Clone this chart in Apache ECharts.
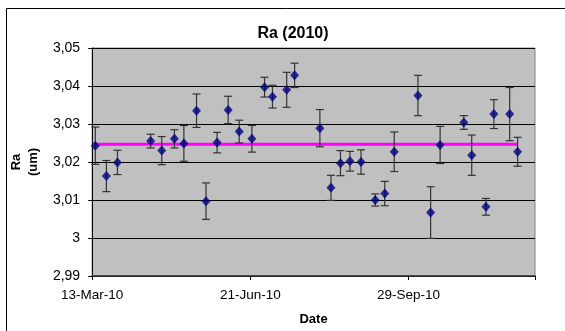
<!DOCTYPE html>
<html>
<head>
<meta charset="utf-8">
<script src="https://cdn.jsdelivr.net/npm/echarts@6/dist/echarts.min.js"></script>
<style>
html,body{margin:0;padding:0;background:#fff;}
#chart{width:565px;height:331px;}
</style>
</head>
<body>
<div id="chart"></div>
<script>
// ---- data ----
const startDate = '2010-03-13';
const dates = ['2010-03-15','2010-03-22','2010-03-29','2010-04-19','2010-04-26','2010-05-04','2010-05-10','2010-05-18','2010-05-24','2010-05-31',
  '2010-06-07','2010-06-14','2010-06-22','2010-06-30','2010-07-05','2010-07-14','2010-07-19','2010-08-04','2010-08-11','2010-08-17',
  '2010-08-23','2010-08-30','2010-09-08','2010-09-14','2010-09-20','2010-10-05','2010-10-13','2010-10-19','2010-11-03','2010-11-08',
  '2010-11-17','2010-11-22','2010-12-02','2010-12-07'];
const raValues = [3.0243,3.0163,3.0199,3.0255,3.0230,3.0261,3.0249,3.0335,3.0097,3.0251,
  3.0337,3.0280,3.0261,3.0397,3.0372,3.0390,3.0428,3.0289,3.0132,3.0197,
  3.0202,3.0200,3.0100,3.0117,3.0227,3.0375,3.0067,3.0245,3.0304,3.0218,
  3.0082,3.0326,3.0326,3.0227];
const raErrors = [0.0049,0.0041,0.0032,0.0018,0.0037,0.0024,0.0047,0.0044,0.0048,0.0027,
  0.0036,0.0030,0.0035,0.0026,0.0030,0.0046,0.0032,0.0049,0.0033,0.0033,
  0.0026,0.0032,0.0016,0.0032,0.0052,0.0053,0.0068,0.0049,0.0018,0.0053,
  0.0022,0.0038,0.0070,0.0038];
const raAverage = 3.0247;
const yTicks = {min: 2.99, max: 3.05, step: 0.01};
const xTicks = {min: 0, max: 280, step: 100}; // days after startDate

// ---- helpers ----
const DAY = 86400000;
const t0 = Date.parse(startDate + 'T00:00:00Z');
const dayOf = d => Math.round((Date.parse(d + 'T00:00:00Z') - t0) / DAY);
const MONTHS = ['Jan','Feb','Mar','Apr','May','Jun','Jul','Aug','Sep','Oct','Nov','Dec'];
function fmtDate(days){
  const d = new Date(t0 + days * DAY);
  return d.getUTCDate() + '-' + MONTHS[d.getUTCMonth()] + '-' + String(d.getUTCFullYear()).slice(2);
}
const xs = dates.map(dayOf);
const points = xs.map((x, i) => [x, raValues[i]]);
const errData = xs.map((x, i) => [x, raValues[i] - raErrors[i], raValues[i] + raErrors[i]]);
const avgData = [[xs[0], raAverage], [xs[xs.length - 1], raAverage]];

const FONT = '"Liberation Sans", Arial, sans-serif';
const chart = echarts.init(document.getElementById('chart'), null, {renderer: 'canvas'});
chart.setOption({
  animation: false,
  backgroundColor: '#ffffff',
  title: {
    text: 'Ra (2010)', left: 288, top: 21, textAlign: 'center',
    textStyle: {fontFamily: FONT, fontSize: 16, fontWeight: 'bold', color: '#000'}
  },
  graphic: [
    {type: 'rect', shape: {x: 6.5, y: 8.5, width: 700, height: 500}, style: {fill: null, stroke: '#000', lineWidth: 1}, z: -1}
  ],
  grid: {
    left: 90, right: 30, top: 48, bottom: 53,
    show: true, backgroundColor: '#C0C0C0', borderColor: '#808080', borderWidth: 1
  },
  xAxis: {
    type: 'value', min: xTicks.min, max: xTicks.max, interval: xTicks.step,
    name: 'Date', nameLocation: 'middle', nameGap: 37,
    nameTextStyle: {fontFamily: FONT, fontSize: 13, fontWeight: 'bold', color: '#000'},
    axisLine: {show: true, onZero: false, lineStyle: {color: '#303030', width: 1.5}},
    axisTick: {show: true, length: 4, inside: false, lineStyle: {color: '#000'}},
    axisLabel: {
      fontFamily: FONT, fontSize: 13.5, color: '#000', margin: 12,
      formatter: v => (v % xTicks.step === 0 ? fmtDate(v) : '')
    },
    splitLine: {show: false}
  },
  yAxis: {
    type: 'value', min: yTicks.min, max: yTicks.max, interval: yTicks.step,
    name: 'Ra\n(um)', nameLocation: 'middle', nameGap: 47, nameRotate: 90,
    nameTextStyle: {fontFamily: FONT, fontSize: 13, fontWeight: 'bold', color: '#000', lineHeight: 17},
    axisLine: {show: true, lineStyle: {color: '#000', width: 1}},
    axisTick: {show: true, length: 4, inside: false, lineStyle: {color: '#000'}},
    axisLabel: {
      fontFamily: FONT, fontSize: 14, color: '#000', margin: 12,
      formatter: v => String(parseFloat(v.toFixed(2))).replace('.', ',')
    },
    splitLine: {show: true, lineStyle: {color: '#000', width: 1}}
  },
  series: [
    {
      type: 'line', data: avgData, symbol: 'none', silent: true,
      lineStyle: {color: '#FF00FF', width: 3}, z: 2
    },
    {
      type: 'custom', z: 3, silent: true,
      renderItem: function (params, api) {
        const x = api.value(0);
        const lo = api.coord([x, api.value(1)]);
        const hi = api.coord([x, api.value(2)]);
        const hw = 4;
        const st = {stroke: '#333333', lineWidth: 1.2};
        return {
          type: 'group',
          children: [
            {type: 'line', shape: {x1: lo[0], y1: lo[1], x2: hi[0], y2: hi[1]}, style: st},
            {type: 'line', shape: {x1: lo[0] - hw, y1: lo[1], x2: lo[0] + hw, y2: lo[1]}, style: st},
            {type: 'line', shape: {x1: hi[0] - hw, y1: hi[1], x2: hi[0] + hw, y2: hi[1]}, style: st}
          ]
        };
      },
      encode: {x: 0, y: [1, 2]},
      data: errData
    },
    {
      type: 'scatter', data: points, symbol: 'diamond', symbolSize: [9, 10], z: 4,
      itemStyle: {color: '#000080'}
    }
  ]
});
</script>
</body>
</html>
